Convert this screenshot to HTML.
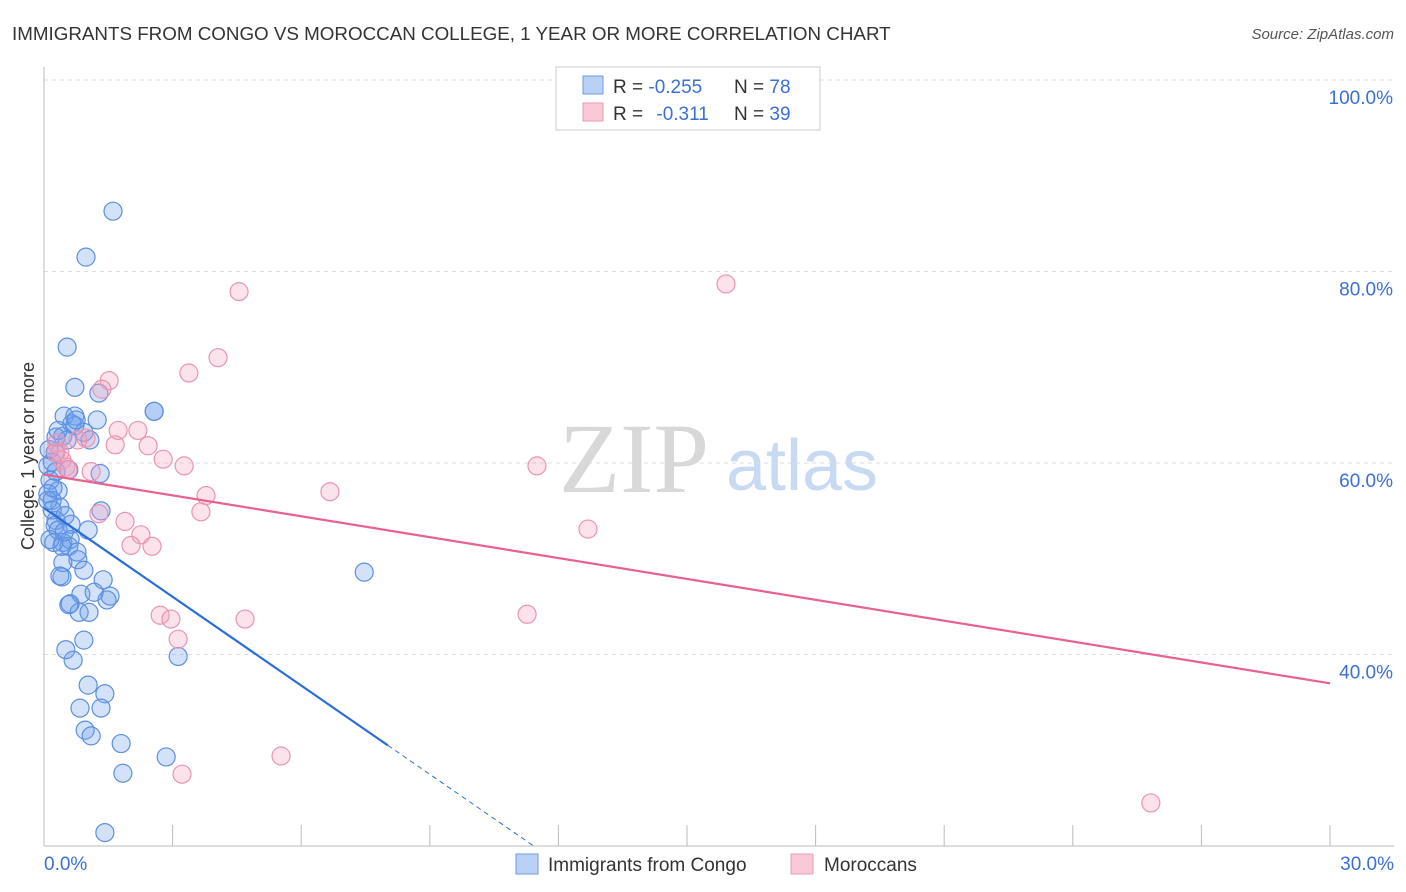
<!DOCTYPE html>
<html><head><meta charset="utf-8"><style>
body{margin:0;background:#fff;font-family:"Liberation Sans",sans-serif}
</style></head><body>
<svg id="c" width="1406" height="892" style="display:block">
<text x="12" y="40" font-size="18.8" fill="#333">IMMIGRANTS FROM CONGO VS MOROCCAN COLLEGE, 1 YEAR OR MORE CORRELATION CHART</text>
<text x="1394" y="39" font-size="15" fill="#555" font-style="italic" text-anchor="end">Source: ZipAtlas.com</text>
<text x="634" y="492" font-size="100" fill="#d8d8d8" font-family="Liberation Serif,serif" text-anchor="middle">ZIP</text>
<text x="802" y="490" font-size="72" fill="#c8daf2" text-anchor="middle">atlas</text>
<text transform="translate(34,456) rotate(-90)" font-size="18" fill="#333" text-anchor="middle">College, 1 year or more</text>
<g id="grid"></g><g id="pts"></g><g id="lines"></g>
<g>
<rect x="556" y="67" width="264" height="63" fill="#fff" stroke="#ccc"/>
<rect x="583" y="76" width="20" height="18" fill="#b9d1f5" stroke="#6c9be6"/>
<rect x="583" y="103" width="20" height="18" fill="#f9c9d8" stroke="#ec9ab4"/>
<text x="613" y="93" font-size="19" fill="#333">R = <tspan fill="#3a6fd8">-0.255</tspan></text>
<text x="734" y="93" font-size="19" fill="#333">N = <tspan fill="#3a6fd8">78</tspan></text>
<text x="613" y="120" font-size="19" fill="#333">R = <tspan fill="#3a6fd8" dx="8">-0.311</tspan></text>
<text x="734" y="120" font-size="19" fill="#333">N = <tspan fill="#3a6fd8">39</tspan></text>
</g>
<g>
<rect x="516" y="854" width="22" height="20" fill="#b9d1f5" stroke="#6c9be6"/>
<text x="548" y="871" font-size="19" fill="#333">Immigrants from Congo</text>
<rect x="791" y="854" width="22" height="20" fill="#f9c9d8" stroke="#ec9ab4"/>
<text x="824" y="871" font-size="19" fill="#333">Moroccans</text>
</g>
</svg>
<script>
const yTicks=[100,80,60,40];
const xTickVals=[0,3,6,9,12,15,18,21,24,27,30];
const xLabels=["0.0%","30.0%"];
const congoX=[1.61,0.98,0.54,0.72,2.57,1.24,0.47,0.72,0.65,0.44,0.72,0.93,0.28,0.26,0.54,1.28,0.19,0.09,0.28,0.58,1.31,0.14,0.33,0.09,0.19,0.37,1.33,0.28,0.26,0.63,1.03,0.33,0.44,0.61,0.58,0.23,0.77,0.79,0.44,0.93,0.42,1.38,0.37,1.54,0.86,0.58,1.47,0.82,1.05,0.61,0.93,0.51,0.68,3.13,1.03,1.42,0.84,1.33,0.96,1.10,1.80,2.85,1.84,1.42,7.47,0.12,0.33,1.07,0.09,0.19,0.49,1.17,0.42,0.14,0.75,0.47,0.21,2.57];
const congoY=[86.3,81.5,72.1,67.9,65.4,64.5,64.9,64.9,64.1,62.8,63.9,63.2,62.7,61.1,62.4,67.3,60.1,59.7,59.1,59.3,58.9,58.2,57.1,56.8,56.1,55.4,55.0,54.0,53.5,53.6,53.0,53.0,51.7,52.0,51.3,51.7,50.7,49.9,49.6,48.8,48.1,47.8,48.2,46.1,46.3,45.2,45.7,44.4,44.4,45.3,41.5,40.5,39.4,39.8,36.8,35.9,34.4,34.4,32.1,31.5,30.7,29.3,27.6,21.4,48.6,61.4,63.4,62.4,56.1,55.1,54.5,46.5,51.3,52.0,64.5,52.8,57.4,65.4];
const morX=[4.55,15.91,4.06,3.38,1.52,1.35,1.73,2.19,0.98,0.79,1.66,2.43,2.78,3.27,0.30,0.42,0.51,1.10,0.28,3.78,6.67,11.50,3.66,1.28,1.89,2.26,2.03,2.52,12.69,2.71,2.96,3.13,4.69,11.27,5.53,3.22,25.82,0.37,0.56];
const morY=[77.9,78.7,71.0,69.4,68.6,67.7,63.4,63.4,62.6,62.4,61.9,61.8,60.4,59.7,62.1,60.3,59.6,59.1,61.1,56.6,57.0,59.7,54.9,54.7,53.9,52.5,51.4,51.3,53.1,44.1,43.7,41.6,43.7,44.2,29.4,27.5,24.5,61.1,59.3];
const congoTrend=[55.3,-3.09];
const morTrend=[58.8,-0.727];
const NS='http://www.w3.org/2000/svg';
const sx=v=>44+v*1286/30, sy=v=>1037.5-v*9.575;
function mk(t,a,p){const e=document.createElementNS(NS,t);for(const k in a)e.setAttribute(k,a[k]);p.appendChild(e);return e;}
const grid=document.getElementById('grid');
yTicks.forEach(v=>{
 const l=mk('line',{x1:44,x2:1394,y1:sy(v),y2:sy(v),stroke:'#ddd','stroke-dasharray':'4,4'},grid);
 
 
 const t=mk('text',{x:1393,y:sy(v)+24,'font-size':19,fill:'#3a6fd8','text-anchor':'end'},grid);
 t.textContent=v.toFixed(1)+'%';
 
 
});
const ax=mk('line',{x1:44,x2:44,y1:67,y2:846,stroke:'#bbb'},grid);


const bx=mk('line',{x1:44,x2:1394,y1:846,y2:846,stroke:'#bbb'},grid);


xTickVals.forEach(v=>{
 const l=mk('line',{x1:sx(v),x2:sx(v),y1:825,y2:846,stroke:'#bbb'},grid);
 
 
});
[[0,xLabels[0],'start',44],[30,xLabels[1],'end',1394]].forEach(d=>{
 const t=mk('text',{x:d[3],y:870,'font-size':19,fill:'#3a6fd8','text-anchor':d[2]},grid);
 t.textContent=d[1];
 
 
});
const pts=document.getElementById('pts');
congoX.forEach((x,i)=>{
 const c=mk('circle',{cx:sx(x),cy:sy(congoY[i]),r:9,fill:'rgba(110,160,235,0.3)',stroke:'#5b8fe0','stroke-width':1.2},pts);
 
 
});
morX.forEach((x,i)=>{
 const c=mk('circle',{cx:sx(x),cy:sy(morY[i]),r:9,fill:'rgba(245,160,190,0.3)',stroke:'#ea94b0','stroke-width':1.2},pts);
 
 
});
const lines=document.getElementById('lines');
const cEnd=8.02, yBottom=(1037.5-846)/9.575, cZero=(yBottom-congoTrend[0])/congoTrend[1];
const l1=mk('line',{x1:sx(0),y1:sy(congoTrend[0]),x2:sx(cEnd),y2:sy(congoTrend[0]+congoTrend[1]*cEnd),stroke:'#2a6dd9','stroke-width':2.2},lines);


const l2=mk('line',{x1:sx(cEnd),y1:sy(congoTrend[0]+congoTrend[1]*cEnd),x2:sx(cZero),y2:sy(yBottom),stroke:'#2a6dd9','stroke-width':1,'stroke-dasharray':'5,4'},lines);


const l3=mk('line',{x1:sx(0),y1:sy(morTrend[0]),x2:sx(30),y2:sy(morTrend[0]+morTrend[1]*30),stroke:'#e8628f','stroke-width':2.2},lines);


</script>
</body></html>
